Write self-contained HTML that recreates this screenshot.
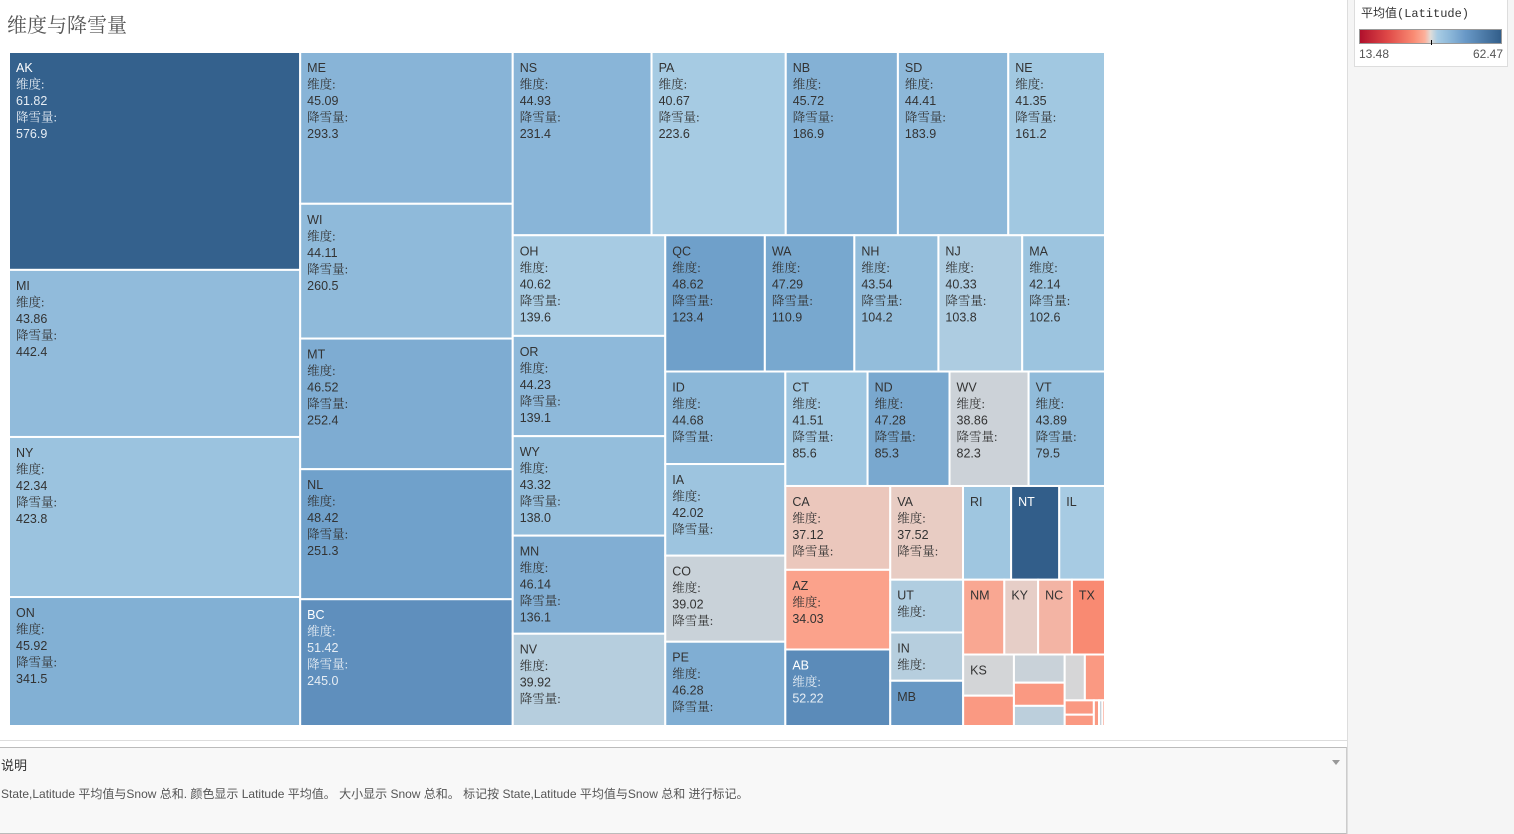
<!DOCTYPE html>
<html><head><meta charset="utf-8">
<style>
html,body{margin:0;padding:0;background:#fff;width:1514px;height:834px;overflow:hidden;font-family:"Liberation Sans","Noto Sans CJK SC",sans-serif;}
#title{position:absolute;left:7px;top:9px;font-size:20px;color:#555;font-family:"Liberation Serif","Noto Serif CJK SC",serif;}
#sidebar{position:absolute;left:1347px;top:0;width:167px;height:834px;background:#f5f5f5;border-left:1px solid #ddd;}
#legend{position:absolute;left:1354px;top:0;width:152px;height:66px;background:#fff;border:1px solid #ddd;border-top:none;}
#legend .lt{position:absolute;left:6px;top:4px;font-size:12px;color:#333;font-family:"Liberation Mono","Noto Sans CJK SC",monospace;}
#legend .bar{position:absolute;left:4px;top:29px;width:143px;height:15px;border:1px solid #999;box-sizing:border-box;background:linear-gradient(to right,#b0102c 0%,#e04a48 20%,#f98b73 38%,#fcb09b 46%,#e0dcd8 50%,#a8cce4 55%,#88b4d7 65%,#6898c6 75%,#325e8a 100%);}
#legend .tick{position:absolute;left:76px;top:40px;width:1px;height:5px;background:#000;}
#legend .mn{position:absolute;left:4px;top:47px;font-size:12px;color:#555;}
#legend .mx{position:absolute;right:4px;top:47px;font-size:12px;color:#555;}
#sep{position:absolute;left:0;top:740px;width:1347px;height:1px;background:#ddd;}
#caption{position:absolute;left:0;top:747px;width:1346px;height:85px;background:#f8f8f8;border-top:1px solid #bbb;border-bottom:1px solid #bbb;border-right:1px solid #ccc;}
#caption .h{position:absolute;left:1px;top:7px;font-size:13px;color:#333;}
#caption .t{position:absolute;left:1px;top:37px;font-size:12px;color:#555;}
#caption .arr{position:absolute;right:6px;top:12px;width:0;height:0;border-left:4px solid transparent;border-right:4px solid transparent;border-top:5px solid #999;}
svg text{font-size:12.5px;}
</style></head><body>
<div id="title">维度与降雪量</div>
<svg id="tm" width="1514" height="834" style="position:absolute;left:0;top:0"></svg>
<div id="sidebar"></div>
<div id="legend">
 <div class="lt">平均值(Latitude)</div>
 <div class="bar"></div>
 <div class="tick"></div>
 <div class="mn">13.48</div>
 <div class="mx">62.47</div>
</div>
<div id="sep"></div>
<div id="caption">
 <div class="h">说明</div>
 <div class="arr"></div>
 <div class="t">State,Latitude 平均值与Snow 总和. 颜色显示 Latitude 平均值。 大小显示 Snow 总和。 标记按 State,Latitude 平均值与Snow 总和 进行标记。</div>
</div>
<script>
const states = ["AK","MI","NY","ON","ME","WI","MT","NL","BC","NS","PA","NB","SD","NE","OH","OR","WY","MN","NV","QC","WA","NH","NJ","MA","ID","IA","CO","PE","CT","ND","WV","VT","CA","AZ","AB","VA","RI","NT","IL","UT","IN","MB","NM","KY","NC","TX","KS","X1","X2","X3","X4","X5","X6","X7","X8","X9","X10","X11"];
const snow = [576.9,442.4,423.8,341.5,293.3,260.5,252.4,251.3,245.0,231.4,223.6,186.9,183.9,161.2,139.6,139.1,138.0,136.1,128,123.4,110.9,104.2,103.8,102.6,101,100,94,92,85.6,85.3,82.3,79.5,80,76,73,62,41,41,39,35,32,30,28,23,23,22.5,19,14,13,10.7,9.3,8.4,8.4,3.8,3.0,1.2,0.8,0.6];
const latitude = [61.82,43.86,42.34,45.92,45.09,44.11,46.52,48.42,51.42,44.93,40.67,45.72,44.41,41.35,40.62,44.23,43.32,46.14,39.92,48.62,47.29,43.54,40.33,42.14,44.68,42.02,39.02,46.28,41.51,47.28,38.86,43.89,37.12,34.03,52.22,37.52,41.7,62.47,40.6,40.2,39.9,49.9,34.5,37.6,35.6,31.1,38.5,33,39,33,39.6,38.3,33,33,33,33,39,33];
const stripSizes = [4,5,5,5,5,4,4,3,4,3,4,2,3,2,2,3];
const LAT_MIN = 13.48, LAT_MAX = 62.47;

const X0=9,Y0=52,W=1096,H=674;
function hex(c){return [parseInt(c.slice(1,3),16),parseInt(c.slice(3,5),16),parseInt(c.slice(5,7),16)];}
function interp(stops,t){for(let i=1;i<stops.length;i++){if(t<=stops[i][0]){const a=stops[i-1],b=stops[i];const f=(t-a[0])/(b[0]-a[0]);const ca=hex(a[1]),cb=hex(b[1]);return 'rgb('+ca.map((v,k)=>Math.round(v+(cb[k]-v)*f)).join(',')+')';}}return stops[stops.length-1][1];}
const mid=(LAT_MIN+LAT_MAX)/2;
const blue=[[0,'#dcd9d7'],[0.03,'#cfd3d7'],[0.11,'#a6cbe3'],[0.28,'#8ab6d8'],[0.44,'#6e9fca'],[0.55,'#5f8fbd'],[0.7,'#4d7dab'],[1,'#325e8a']];
const red=[[0,'#dcd9d7'],[0.02,'#e9cbc2'],[0.16,'#fba28b'],[0.28,'#f98a72'],[0.6,'#e04a48'],[1,'#b0102c']];
function color(l){if(l>=mid)return interp(blue,(l-mid)/(LAT_MAX-mid));return interp(red,(mid-l)/(mid-LAT_MIN));}

const total=snow.reduce((a,b)=>a+b,0);
const k=W*H/total;
const svg=document.getElementById('tm');
const NS='http://www.w3.org/2000/svg';
let rx=X0,ry=Y0,rw=W,rh=H,idx=0;
const rects=[];
stripSizes.forEach((n,si)=>{
  let cnt = si===stripSizes.length-1 ? states.length-idx : n;
  const items=[];for(let j=0;j<cnt&&idx<states.length;j++)items.push(idx++);
  const s=items.reduce((a,i)=>a+snow[i],0)*k;
  if(rw>=rh){const cw=s/rh;let y=ry;items.forEach(i=>{const h=snow[i]*k/cw;rects.push([i,rx,y,cw,h]);y+=h;});rx+=cw;rw-=cw;}
  else{const chh=s/rw;let x=rx;items.forEach(i=>{const w=snow[i]*k/chh;rects.push([i,x,ry,w,chh]);x+=w;});ry+=chh;rh-=chh;}
});
rects.forEach(([i,x,y,w,h])=>{
  const g=document.createElementNS(NS,'g');
  
  
  const r=document.createElementNS(NS,'rect');
  r.setAttribute('x',x);r.setAttribute('y',y);r.setAttribute('width',Math.max(0,w));r.setAttribute('height',Math.max(0,h));
  r.setAttribute('fill',color(latitude[i]));r.setAttribute('stroke','#fff');r.setAttribute('stroke-width','2');
  
  
  g.appendChild(r);
  const isX=states[i][0]==='X';
  let lines=[states[i],'维度:',latitude[i].toFixed(2),'降雪量:',snow[i].toFixed(1)];
  let n=Math.floor((h-15)/16.5);n=Math.min(n,5);
  if(w<60)n=Math.min(n,1);
  if(w<28||isX)n=0;
  const light=latitude[i]>50;
  for(let j=0;j<n;j++){
    const t=document.createElementNS(NS,'text');
    t.setAttribute('x',x+7);t.setAttribute('y',y+20+16.5*j);
    t.setAttribute('fill',light?(j===0?'#fff':'#e6edf4'):'#333');
    if(j%2===1){t.setAttribute('font-family','"Liberation Serif","Noto Serif CJK SC",serif');t.setAttribute('font-size','12');}
    t.textContent=lines[j];
    
    
    g.appendChild(t);
  }
  svg.appendChild(g);
});
</script>
</body></html>
